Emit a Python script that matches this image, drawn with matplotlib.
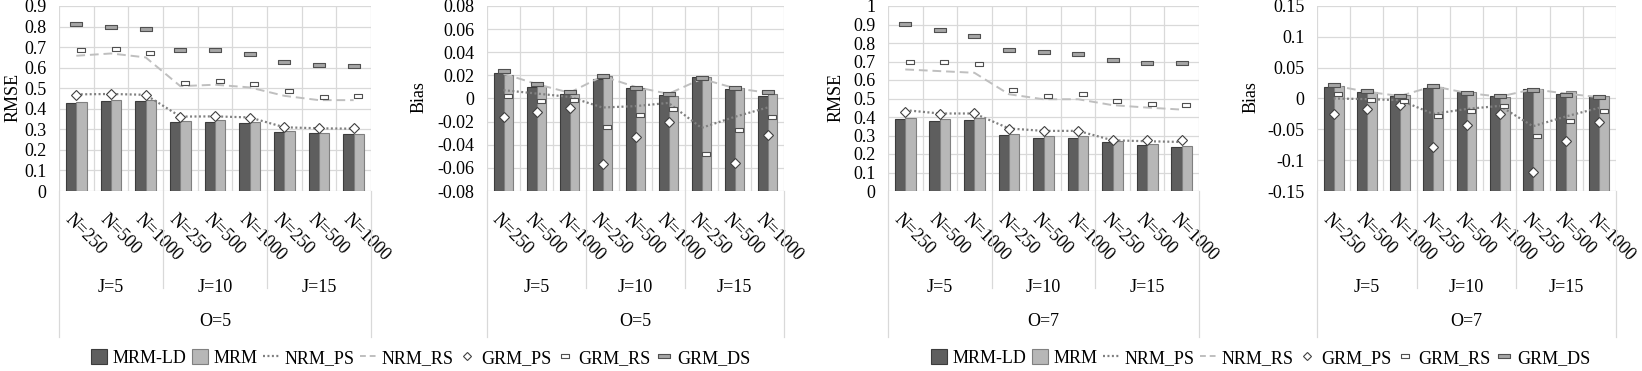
import numpy as np
import matplotlib
matplotlib.use('Agg')
import matplotlib.pyplot as plt
from matplotlib.path import Path
from matplotlib.lines import Line2D
from matplotlib.patches import Patch
from matplotlib import transforms

plt.rcParams['font.family'] = ['Liberation Serif', 'DejaVu Serif']

# categories
n_labels = ['N=250', 'N=500', 'N=1000'] * 3
j_labels = ['J=5', 'J=10', 'J=15']
series = ['MRM-LD', 'MRM', 'NRM_PS', 'NRM_RS', 'GRM_PS', 'GRM_RS', 'GRM_DS']

# O=5, RMSE
rmse5_mrmld = [0.430, 0.437, 0.437, 0.335, 0.338, 0.330, 0.287, 0.280, 0.277]
rmse5_mrm = [0.435, 0.442, 0.445, 0.340, 0.343, 0.335, 0.291, 0.283, 0.279]
rmse5_nrmps = [0.470, 0.472, 0.468, 0.362, 0.363, 0.358, 0.310, 0.305, 0.303]
rmse5_nrmrs = [0.658, 0.669, 0.650, 0.510, 0.517, 0.504, 0.463, 0.442, 0.442]
rmse5_grmps = [0.465, 0.472, 0.468, 0.358, 0.366, 0.356, 0.310, 0.307, 0.307]
rmse5_grmrs = [0.686, 0.689, 0.672, 0.526, 0.534, 0.521, 0.487, 0.458, 0.460]
rmse5_grmds = [0.810, 0.799, 0.788, 0.684, 0.686, 0.666, 0.627, 0.612, 0.609]

# O=5, Bias
bias5_mrmld = [0.0222, 0.0101, 0.0040, 0.0170, 0.0095, 0.0030, 0.0185, 0.0084, 0.0020]
bias5_mrm = [0.0202, 0.0108, 0.0035, 0.0193, 0.0092, 0.0025, 0.0185, 0.0090, 0.0043]
bias5_nrmps = [0.0072, 0.0043, 0.0014, -0.0078, -0.0066, -0.0038, -0.0254, -0.0159, -0.0078]
bias5_nrmrs = [0.0215, 0.0125, 0.0050, 0.0193, 0.0100, 0.0040, 0.0170, 0.0090, 0.0050]
bias5_grmps = [-0.0156, -0.0121, -0.0081, -0.0566, -0.0332, -0.0199, -0.0950, -0.0555, -0.0315]
bias5_grmrs = [0.0020, -0.0020, -0.0014, -0.0245, -0.0147, -0.0087, -0.0482, -0.0274, -0.0159]
bias5_grmds = [0.0237, 0.0122, 0.0052, 0.0193, 0.0092, 0.0035, 0.0173, 0.0087, 0.0052]

# O=7, RMSE
rmse7_mrmld = [0.390, 0.381, 0.386, 0.303, 0.289, 0.289, 0.265, 0.251, 0.238]
rmse7_mrm = [0.395, 0.388, 0.395, 0.309, 0.296, 0.296, 0.271, 0.256, 0.245]
rmse7_nrmps = [0.437, 0.419, 0.419, 0.338, 0.325, 0.325, 0.274, 0.269, 0.265]
rmse7_nrmrs = [0.657, 0.648, 0.639, 0.523, 0.496, 0.496, 0.464, 0.451, 0.440]
rmse7_grmps = [0.426, 0.417, 0.421, 0.334, 0.325, 0.325, 0.278, 0.278, 0.278]
rmse7_grmrs = [0.695, 0.695, 0.686, 0.547, 0.511, 0.522, 0.487, 0.468, 0.464]
rmse7_grmds = [0.901, 0.868, 0.838, 0.762, 0.749, 0.742, 0.708, 0.693, 0.691]

# O=7, Bias
bias7_mrmld = [0.0190, 0.0108, 0.0038, 0.0173, 0.0103, 0.0033, 0.0157, 0.0076, 0.0043]
bias7_mrm = [0.0200, 0.0098, 0.0060, 0.0190, 0.0098, 0.0030, 0.0146, 0.0119, 0.0043]
bias7_nrmps = [0.0000, -0.0010, -0.0027, -0.0250, -0.0170, -0.0120, -0.0450, -0.0290, -0.0150]
bias7_nrmrs = [0.0210, 0.0110, 0.0040, 0.0200, 0.0090, 0.0030, 0.0150, 0.0080, 0.0020]
bias7_grmps = [-0.0249, -0.0173, -0.0103, -0.0785, -0.0433, -0.0244, -0.1197, -0.0688, -0.0374]
bias7_grmrs = [0.0065, -0.0022, -0.0038, -0.0282, -0.0195, -0.0114, -0.0601, -0.0368, -0.0200]
bias7_grmds = [0.0220, 0.0120, 0.0043, 0.0195, 0.0087, 0.0043, 0.0141, 0.0054, 0.0022]

W, H = 1642, 371
dark, dark_edge = '#5e5e5e', '#3c3c3c'
light, light_edge = '#b7b7b7', '#808080'
grid_c = '#d9d9d9'
fs = 13

# excel style dash marker (flat box)
flat_ds = Path([(-1, -0.28), (1, -0.28), (1, 0.28), (-1, 0.28), (-1, -0.28)],
               [1, 2, 2, 2, 79])
flat_rs = Path([(-1, -0.5), (1, -0.5), (1, 0.5), (-1, 0.5), (-1, -0.5)],
               [1, 2, 2, 2, 79])


def fmt(v):
    v = round(v, 4)
    if v == 0:
        return '0'
    return '{:g}'.format(v)


def make_panel(fig, left, right, ylim, step, ylabel, ylab_x, olabel, data):
    top, bot = 6, 191
    ax = fig.add_axes([left / W, 1 - bot / H, (right - left) / W, (bot - top) / H])
    x = np.arange(9)
    ymin, ymax = ylim
    ax.set_xlim(-0.5, 8.5)
    ax.set_ylim(ymin, ymax)
    for s in ax.spines.values():
        s.set_visible(False)
    ticks = np.arange(ymin, ymax + step / 2, step)
    for t in ticks:
        ax.axhline(t, color=grid_c, lw=0.9, zorder=0)
    for b in np.arange(-0.5, 9, 1):
        ax.axvline(b, color=grid_c, lw=0.9, zorder=0)
    ax.set_yticks(ticks)
    ax.set_yticklabels([fmt(t) for t in ticks])
    ax.tick_params(axis='y', length=0, pad=9, labelsize=fs)
    ax.set_xticks([])

    mrmld, mrm, nrmps, nrmrs, grmps, grmrs, grmds = data
    bw = 0.3
    ax.bar(x - bw / 2, np.array(mrmld) - ymin, bw, bottom=ymin, color=dark,
           edgecolor=dark_edge, linewidth=0.8, zorder=2)
    ax.bar(x + bw / 2, np.array(mrm) - ymin, bw, bottom=ymin, color=light,
           edgecolor=light_edge, linewidth=0.8, zorder=2)
    ax.plot(x, nrmps, color='#808080', lw=1.6, linestyle=(0, (0.9, 1.1)), zorder=3)
    ax.plot(x, nrmrs, color='#bfbfbf', lw=1.4, linestyle=(0, (4.5, 2.5)), zorder=3)
    ax.plot(x, grmps, linestyle='none', marker='D', markersize=5, markerfacecolor='white',
            markeredgecolor='#404040', markeredgewidth=0.8, zorder=4)
    ax.plot(x + 0.13, grmrs, linestyle='none', marker=flat_rs, markersize=6,
            markerfacecolor='white', markeredgecolor='#505050', markeredgewidth=0.8, zorder=4)
    ax.plot(x, grmds, linestyle='none', marker=flat_ds, markersize=9,
            markerfacecolor='#a6a6a6', markeredgecolor='#505050', markeredgewidth=0.8, zorder=4)

    # multi level category axis below the plot
    tr = transforms.blended_transform_factory(ax.transData, fig.transFigure)
    for b in [-0.5, 8.5]:
        fig.add_artist(Line2D([b, b], [1 - bot / H, 1 - 337 / H], transform=tr,
                              color=grid_c, lw=0.9))
    for b in [2.5, 5.5]:
        fig.add_artist(Line2D([b, b], [1 - bot / H, 1 - 288 / H], transform=tr,
                              color=grid_c, lw=0.9))
    for i, lab in enumerate(n_labels):
        ax.annotate(lab, xy=(i, 0), xycoords=('data', 'axes fraction'),
                    xytext=(-6, -18.5), textcoords='offset points', rotation=-45,
                    rotation_mode='anchor', ha='left', va='center', fontsize=13)
    for k, lab in enumerate(j_labels):
        fig.text(3 * k + 1, 1 - 288 / H, lab, transform=tr, ha='center', va='center',
                 fontsize=fs)
    fig.text(4, 1 - 322 / H, olabel, transform=tr, ha='center', va='center', fontsize=fs)
    fig.text(ylab_x / W, 1 - 97 / H, ylabel, rotation=90, ha='center', va='center',
             fontsize=fs)
    return ax


def legend_handles():
    return [
        Patch(facecolor=dark, edgecolor=dark_edge, linewidth=0.8),
        Patch(facecolor=light, edgecolor=light_edge, linewidth=0.8),
        Line2D([], [], color='#808080', lw=1.6, linestyle=(0, (0.9, 1.1))),
        Line2D([], [], color='#bfbfbf', lw=1.4, linestyle=(0, (3, 2))),
        Line2D([], [], linestyle='none', marker='D', markersize=4.5, markerfacecolor='white',
               markeredgecolor='#404040', markeredgewidth=0.8),
        Line2D([], [], linestyle='none', marker=flat_rs, markersize=5.5,
               markerfacecolor='white', markeredgecolor='#505050', markeredgewidth=0.8),
        Line2D([], [], linestyle='none', marker=flat_ds, markersize=8,
               markerfacecolor='#a6a6a6', markeredgecolor='#505050', markeredgewidth=0.8),
    ]


if __name__ == "__main__":
    fig = plt.figure(figsize=(W / 100, H / 100), dpi=100)

    make_panel(fig, 59, 371, (0, 0.9), 0.1, 'RMSE', 13, 'O=5',
               [rmse5_mrmld, rmse5_mrm, rmse5_nrmps, rmse5_nrmrs, rmse5_grmps,
                rmse5_grmrs, rmse5_grmds])
    make_panel(fig, 487, 784, (-0.08, 0.08), 0.02, 'Bias', 419, 'O=5',
               [bias5_mrmld, bias5_mrm, bias5_nrmps, bias5_nrmrs, bias5_grmps,
                bias5_grmrs, bias5_grmds])
    make_panel(fig, 888, 1199, (0, 1.0), 0.1, 'RMSE', 836, 'O=7',
               [rmse7_mrmld, rmse7_mrm, rmse7_nrmps, rmse7_nrmrs, rmse7_grmps,
                rmse7_grmrs, rmse7_grmds])
    make_panel(fig, 1317, 1616, (-0.15, 0.15), 0.05, 'Bias', 1251, 'O=7',
               [bias7_mrmld, bias7_mrm, bias7_nrmps, bias7_nrmrs, bias7_grmps,
                bias7_grmrs, bias7_grmds])

    for cx in [421, 1261]:
        fig.legend(legend_handles(), series, loc='center', ncol=7,
                   bbox_to_anchor=(cx / W, 1 - 358 / H), frameon=False, fontsize=fs,
                   handlelength=0.9, handleheight=0.9, handletextpad=0.3,
                   columnspacing=0.3, borderaxespad=0, borderpad=0)

    fig.savefig('out.png', dpi=100)
